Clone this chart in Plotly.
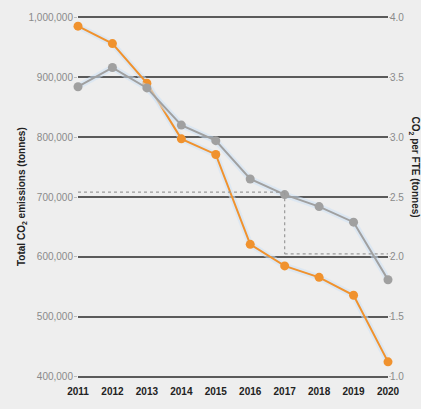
import plotly.graph_objects as go

years = [2011, 2012, 2013, 2014, 2015, 2016, 2017, 2018, 2019, 2020]
total_co2 = [985000, 956000, 890000, 797000, 771000, 621000, 585000, 566000, 536000, 425000]
co2_per_fte = [3.42, 3.58, 3.41, 3.10, 2.97, 2.65, 2.52, 2.42, 2.29, 1.81]

left_ticks = [400000, 500000, 600000, 700000, 800000, 900000, 1000000]
left_labels = ["400,000", "500,000", "600,000", "700,000", "800,000", "900,000", "1,000,000"]
right_ticks = [1.0, 1.5, 2.0, 2.5, 3.0, 3.5, 4.0]
right_labels = ["1.0", "1.5", "2.0", "2.5", "3.0", "3.5", "4.0"]

# dotted reference guides (per-FTE scale)
ref_year = 2017
ref_high = 2.54
ref_low = 2.025

ORANGE = "#F0922E"
GRAY = "#A0A0A0"
HALO = "rgba(205,225,245,0.55)"

fig = go.Figure()

# soft halo under lines
fig.add_trace(go.Scatter(x=years, y=co2_per_fte, yaxis="y2", mode="lines",
                         line=dict(color=HALO, width=6), hoverinfo="skip", showlegend=False))
fig.add_trace(go.Scatter(x=years, y=total_co2, mode="lines",
                         line=dict(color=HALO, width=6), hoverinfo="skip", showlegend=False))

fig.add_trace(go.Scatter(x=years, y=co2_per_fte, yaxis="y2", mode="lines+markers",
                         line=dict(color=GRAY, width=2), marker=dict(color=GRAY, size=9),
                         cliponaxis=False, showlegend=False))
fig.add_trace(go.Scatter(x=years, y=total_co2, mode="lines+markers",
                         line=dict(color=ORANGE, width=2), marker=dict(color=ORANGE, size=9),
                         cliponaxis=False, showlegend=False))

dot = dict(color="#9a9a9a", width=1.2, dash="dot")
fig.add_shape(type="line", xref="x", yref="y2", x0=years[0], x1=ref_year, y0=ref_high, y1=ref_high, line=dot)
fig.add_shape(type="line", xref="x", yref="y2", x0=ref_year, x1=ref_year, y0=ref_high, y1=ref_low, line=dot)
fig.add_shape(type="line", xref="x", yref="y2", x0=ref_year, x1=years[-1], y0=ref_low, y1=ref_low, line=dot)

FONT = "Liberation Sans, Arial, sans-serif"
tickfont = dict(family=FONT, size=10, color="#8a8a8a")

# plot area in pixels: x 78..388, y 15..383
fig.update_layout(
    width=421, height=409,
    margin=dict(l=78, r=33, t=15, b=26),
    paper_bgcolor="#eeeeee", plot_bgcolor="#eeeeee",
    xaxis=dict(range=[2011, 2020], tickvals=years, ticktext=[str(y) for y in years],
               showgrid=False, zeroline=False, showline=False, ticks="",
               tickfont=dict(family=FONT, size=10, color="#222222", weight="bold"),
               ticklabelstandoff=6),
    yaxis=dict(range=[398000, 1002000], tickvals=left_ticks, ticktext=left_labels,
               showgrid=True, gridcolor="#5a5a5a", gridwidth=2, zeroline=False, showline=False,
               ticks="outside", ticklen=3, tickcolor="#bbbbbb", tickfont=tickfont,
               ticklabelstandoff=-1),
    yaxis2=dict(range=[0.99, 4.01], tickvals=right_ticks, ticktext=right_labels,
                overlaying="y", side="right", showgrid=False, zeroline=False, showline=False,
                ticks="outside", ticklen=2, tickcolor="#bbbbbb", tickfont=tickfont,
                ticklabelstandoff=-3),
    annotations=[
        dict(text="<b>Total CO<sub>2</sub> emissions (tonnes)</b>", xref="paper", yref="paper",
             x=(22 - 78) / 310, y=(383 - 199) / 368, xanchor="center", yanchor="middle",
             textangle=-90, showarrow=False,
             font=dict(family=FONT, size=10, color="#222222")),
        dict(text="<b>CO<sub>2</sub> per FTE (tonnes)</b>", xref="paper", yref="paper",
             x=(415 - 78) / 310, y=(383 - 168) / 368, xanchor="center", yanchor="middle",
             textangle=90, showarrow=False,
             font=dict(family=FONT, size=10, color="#222222")),
    ],
)

fig.write_html(
    "out.html",
    config={"displayModeBar": False},
    post_script="document.body.style.margin='0';document.body.style.background='#eeeeee';",
)
